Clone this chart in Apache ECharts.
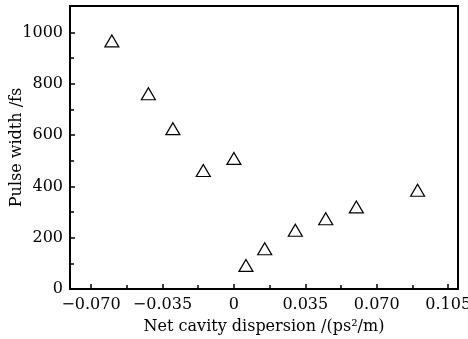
<!DOCTYPE html>
<html><head><meta charset="utf-8">
<script src="https://cdn.jsdelivr.net/npm/echarts@6/dist/echarts.min.js"></script>
<style>html,body{margin:0;padding:0;background:#fff}#c{width:468px;height:339px}</style>
</head><body><div id="c"></div>
<script>
const dispersion = [-0.0598, -0.0419, -0.0299, -0.0150, 0.0000, 0.0059, 0.0151, 0.0301, 0.0450, 0.0600, 0.0900];
const pulseWidth = [967, 761, 625, 462, 509, 92, 157, 229, 274, 320, 385];
const xMajorTicks = [-0.07, -0.035, 0, 0.035, 0.07, 0.105];
const xMinorTicks = [-0.0525, -0.0175, 0.0175, 0.0525, 0.0875];
const yMajorTicks = [0, 200, 400, 600, 800, 1000];
const yMinorTicks = [100, 300, 500, 700, 900];

const font = 'DejaVu Serif';
const xMin = -0.0803, xMax = 0.1098, yMin = 0, yMax = 1103;
const fmtX = v => { if (Math.abs(v) < 1e-9) return '0'; return (v < 0 ? '\u2212' : '') + Math.abs(v).toFixed(3); };

const chart = echarts.init(document.getElementById('c'), null, {renderer: 'canvas'});
chart.setOption({
  animation: false,
  backgroundColor: '#fff',
  grid: {left: 70, right: 10, top: 6, bottom: 50, show: true, borderColor: '#000', borderWidth: 2, containLabel: false, outerBoundsMode: 'none'},
  xAxis: [{
    type: 'value', min: xMin, max: xMax,
    name: 'Net cavity dispersion /(ps\u00b2/m)', nameLocation: 'middle', nameGap: 30, nameMoveOverlap: false,
    nameTextStyle: {fontFamily: font, fontSize: 16, color: '#000'},
    axisLine: {show: true, onZero: false, lineStyle: {color: '#000', width: 2}},
    axisTick: {show: true, inside: true, length: 5, lineStyle: {color: '#000', width: 1.5}, customValues: xMajorTicks},
    axisLabel: {show: true, margin: 8, fontFamily: font, fontSize: 16, color: '#000', customValues: xMajorTicks, formatter: fmtX},
    splitLine: {show: false}
  }, {
    type: 'value', min: xMin, max: xMax, position: 'bottom',
    axisLine: {show: false, onZero: false},
    axisTick: {show: true, inside: true, length: 4, lineStyle: {color: '#000', width: 1.5}, customValues: xMinorTicks},
    axisLabel: {show: false}, splitLine: {show: false}
  }],
  yAxis: [{
    type: 'value', min: yMin, max: yMax,
    name: 'Pulse width /fs', nameLocation: 'middle', nameGap: 45, nameMoveOverlap: false,
    nameTextStyle: {fontFamily: font, fontSize: 16, color: '#000'},
    axisLine: {show: true, onZero: false, lineStyle: {color: '#000', width: 2}},
    axisTick: {show: true, inside: true, length: 5, lineStyle: {color: '#000', width: 1.5}, customValues: yMajorTicks},
    axisLabel: {show: true, margin: 7, fontFamily: font, fontSize: 16, color: '#000', customValues: yMajorTicks, formatter: v => String(v)},
    splitLine: {show: false}
  }, {
    type: 'value', min: yMin, max: yMax, position: 'left',
    axisLine: {show: false, onZero: false},
    axisTick: {show: true, inside: true, length: 4, lineStyle: {color: '#000', width: 1.5}, customValues: yMinorTicks},
    axisLabel: {show: false}, splitLine: {show: false}
  }],
  series: [{
    type: 'scatter', xAxisIndex: 0, yAxisIndex: 0,
    symbol: 'triangle', symbolSize: [14, 12],
    itemStyle: {color: '#fff', borderColor: '#000', borderWidth: 1.2, opacity: 1},
    data: dispersion.map((x, i) => [x, pulseWidth[i]])
  }]
});
</script></body></html>
